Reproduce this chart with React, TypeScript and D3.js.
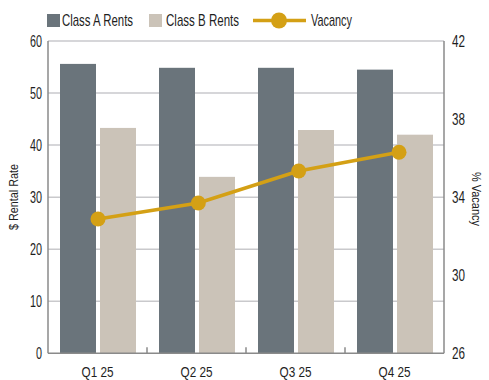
import React from "react";
import * as d3 from "d3";

const quarters = ["Q1 25", "Q2 25", "Q3 25", "Q4 25"];
const classA = [55.6, 54.85, 54.85, 54.5];
const classB = [43.3, 33.9, 42.9, 42.0];
const vacancy = [32.88, 33.7, 35.34, 36.3];
const leftTicks = [0, 10, 20, 30, 40, 50, 60];
const rightTicks = [26, 30, 34, 38, 42];
const seriesNames = ["Class A Rents", "Class B Rents", "Vacancy"];

const W = 489;
const H = 380;
const left = 48;
const right = 444;
const top = 41;
const bottom = 353.3;

const colA = "#6a747b";
const colB = "#cbc3b8";
const colV = "#d4a015";
const font = "'Liberation Sans', Arial, sans-serif";

function T(props: any) {
  const { len, children, ...rest } = props;
  return (
    <text textLength={len} lengthAdjust="spacingAndGlyphs" {...rest}>
      {children}
    </text>
  );
}

export default function App() {
  const x = d3.scaleBand<string>().domain(quarters).range([left, right]).paddingInner(0).paddingOuter(0);
  const yL = d3.scaleLinear().domain([0, 60]).range([bottom, top]);
  const yR = d3.scaleLinear().domain([26, 42]).range([bottom, top]);
  const xp = d3.scalePoint<string>().domain(quarters).range([98, 399]);
  const barW = 36;
  const gap = 4;
  const offset = 12;
  const line = d3
    .line<number>()
    .x((_, i) => xp(quarters[i])!)
    .y((d) => yR(d));

  return (
    <svg width={W} height={H} style={{ position: "absolute", left: 0, top: 0 }}>
      <rect width={W} height={H} fill="#fff" />
      {leftTicks.slice(1).map((t) => (
        <line key={t} x1={left} x2={right} y1={yL(t)} y2={yL(t)} stroke="#c9c9cc" strokeWidth={1.5} />
      ))}
      {quarters.map((q, i) => (
        <g key={q}>
          <rect x={x(q)! + offset} y={yL(classA[i])} width={barW} height={bottom - yL(classA[i])} fill={colA} />
          <rect x={x(q)! + offset + barW + gap} y={yL(classB[i])} width={barW} height={bottom - yL(classB[i])} fill={colB} />
        </g>
      ))}
      <line x1={left} x2={left} y1={top} y2={bottom} stroke="#8a8a8a" strokeWidth={1.5} />
      <line x1={right} x2={right} y1={top} y2={bottom} stroke="#8a8a8a" strokeWidth={1.5} />
      <line x1={left} x2={right} y1={bottom} y2={bottom} stroke="#8a8a8a" strokeWidth={1.5} />
      {quarters.slice(1).map((q) => (
        <line key={q} x1={x(q)!} x2={x(q)!} y1={bottom} y2={bottom - 6} stroke="#8a8a8a" strokeWidth={1.5} />
      ))}
      <path d={line(vacancy)!} fill="none" stroke={colV} strokeWidth={3.5} />
      {vacancy.map((v, i) => (
        <circle key={i} cx={xp(quarters[i])!} cy={yR(v)} r={7.5} fill={colV} />
      ))}
      <g fontFamily={font} fontSize={17} fill="#1e1e1e">
        {leftTicks.map((t) => (
          <T key={t} x={42} y={yL(t)} dy="0.35em" textAnchor="end" len={String(t).length * 6}>
            {t}
          </T>
        ))}
        {rightTicks.map((t) => (
          <T key={t} x={452} y={yR(t)} dy="0.35em" textAnchor="start" len={13}>
            {t}
          </T>
        ))}
        {quarters.map((q) => (
          <T key={q} x={x(q)! + x.bandwidth() / 2 - 16} y={372} dy="0.35em" textAnchor="start" len={32} fontSize={15}>
            {q}
          </T>
        ))}
      </g>
      <T
        transform={`translate(13,${197}) rotate(-90)`}
        x={-33}
        dy="0.35em"
        fontFamily={font}
        fontSize={13}
        fill="#1e1e1e"
        len={66}
      >
        $ Rental Rate
      </T>
      <T
        transform={`translate(477,${199}) rotate(90)`}
        x={-27}
        dy="0.35em"
        fontFamily={font}
        fontSize={13}
        fill="#1e1e1e"
        len={54}
      >
        % Vacancy
      </T>
      <g fontFamily={font} fontSize={17} fill="#1e1e1e">
        <rect x={47} y={14} width={13} height={13} fill={colA} />
        <T x={62} y={20.5} dy="0.35em" len={71}>
          {seriesNames[0]}
        </T>
        <rect x={149} y={14} width={13} height={13} fill={colB} />
        <T x={166} y={20.5} dy="0.35em" len={73}>
          {seriesNames[1]}
        </T>
        <line x1={253} x2={306} y1={20.5} y2={20.5} stroke={colV} strokeWidth={3.5} />
        <circle cx={279} cy={20.5} r={8} fill={colV} />
        <T x={311} y={20.5} dy="0.35em" len={41}>
          {seriesNames[2]}
        </T>
      </g>
    </svg>
  );
}
